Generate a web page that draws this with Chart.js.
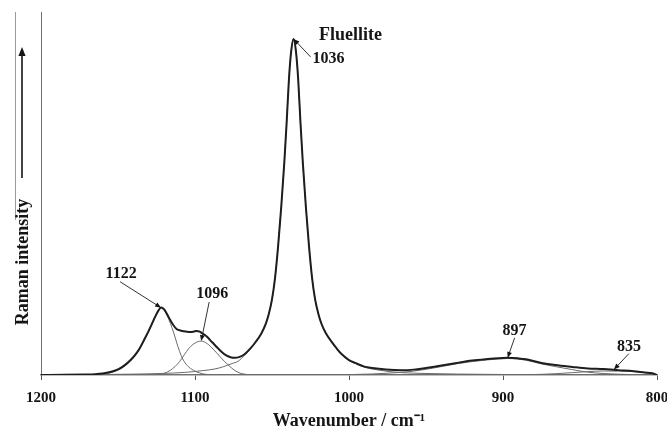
<!DOCTYPE html>
<html>
<head>
<meta charset="utf-8">
<script src="https://cdn.jsdelivr.net/npm/chart.js@4.4.0/dist/chart.umd.min.js"></script>
<style>
  html, body { margin: 0; padding: 0; background: #fff; }
  #wrap { position: relative; width: 667px; height: 430px; }
</style>
</head>
<body>
<div id="wrap"><canvas id="raman"></canvas></div>
<script>
// Raman spectrum of fluellite, 1200-800 cm-1: measured envelope + fitted bands

// measured spectrum (wavenumber / intensity, arbitrary units)
const totalWn = [1200, 1185, 1172, 1165, 1160, 1155, 1150, 1146, 1142, 1139,
  1136, 1133, 1130, 1128, 1126, 1124, 1122, 1120, 1118, 1116,
  1114, 1112, 1110, 1107, 1104, 1101, 1099, 1097, 1095, 1092,
  1089, 1086, 1083, 1080, 1077, 1074, 1071, 1068, 1064, 1061,
  1057, 1054, 1052, 1050, 1048, 1046, 1044, 1042, 1040.5, 1039,
  1037.5, 1036, 1034.5, 1033, 1031.5, 1030, 1028, 1026, 1024, 1022,
  1020, 1018, 1015, 1011, 1008, 1005, 1000, 996, 990, 985,
  976, 966, 958, 950, 940, 930, 920, 910, 903, 897,
  890, 885, 875, 866, 855, 845, 835, 825, 815, 808,
  803, 800];
const totalI = [0, 0.05, 0.15, 0.25, 0.45, 0.9, 1.7, 2.8, 4.4, 5.9,
  7.9, 10.5, 13.2, 15.2, 17.2, 19.0, 20.1, 19.5, 18.0, 16.3,
  14.8, 13.7, 13.3, 13.0, 12.8, 12.9, 13.1, 12.9, 12.3, 11.3,
  9.8, 8.4, 7.0, 5.9, 5.3, 5.1, 5.4, 6.1, 7.9, 9.6,
  12.3, 15.3, 18.3, 22.5, 29, 38.5, 50, 63.3, 75, 88,
  96.5, 100, 96.5, 88, 75, 63.3, 50, 38.5, 29, 22.5,
  18.4, 15.4, 12.4, 9.7, 7.9, 6.3, 4.45, 3.6, 2.5, 2.1,
  1.65, 1.45, 1.6, 2.1, 2.8, 3.6, 4.3, 4.75, 5.0, 5.1,
  4.95, 4.7, 3.6, 2.95, 2.4, 1.95, 1.75, 1.45, 1.15, 0.75,
  0.5, 0];

// fitted band at 1122
const band1122Wn = [1200, 1175, 1165, 1160, 1155, 1150, 1146, 1142, 1139, 1136,
  1133, 1130, 1128, 1126, 1124, 1122, 1120, 1118, 1116, 1114,
  1112, 1110, 1108, 1105, 1101, 1097, 1093, 1088, 1080, 800];
const band1122I = [0, 0, 0.1, 0.25, 0.65, 1.45, 2.5, 4.1, 5.6, 7.6,
  10.2, 13.0, 15.0, 17.0, 18.8, 20.0, 19.2, 17.6, 15.4, 12.8,
  9.8, 7.0, 4.8, 2.8, 1.4, 0.6, 0.2, 0.05, 0, 0];

// fitted band at 1096
const band1096Wn = [1200, 1130, 1124, 1120, 1116, 1113, 1110, 1107, 1104, 1100,
  1096, 1092, 1088, 1084, 1081, 1078, 1074, 1070, 1065, 1060, 800];
const band1096I = [0, 0, 0.15, 0.5, 1.4, 2.5, 4.0, 6.0, 7.9, 9.5,
  10.1, 9.3, 7.6, 5.6, 4.1, 2.8, 1.3, 0.45, 0.1, 0, 0];

// fitted band at 1036 (main fluellite band)
const band1036Wn = [1200, 1170, 1142, 1122, 1106, 1096, 1087, 1082, 1076, 1072,
  1068, 1064, 1061, 1057, 1054, 1052, 1050, 1048, 1046, 1044,
  1042, 1040.5, 1039, 1037.5, 1036, 1034.5, 1033, 1031.5, 1030, 1028,
  1026, 1024, 1022, 1020, 1018, 1015, 1011, 1008, 1005, 1000,
  996, 990, 985, 976, 966, 950, 930, 900, 850, 800];
const band1036I = [0, 0.1, 0.25, 0.45, 0.8, 1.25, 1.8, 2.4, 3.4, 4.1,
  5.8, 7.8, 9.6, 12.3, 15.3, 18.3, 22.5, 29, 38.5, 50,
  63.3, 75, 88, 96.5, 100, 96.5, 88, 75, 63.3, 50,
  38.5, 29, 22.5, 18.3, 15.3, 12.3, 9.7, 7.8, 6.2, 4.3,
  3.5, 2.3, 1.8, 1.15, 0.7, 0.45, 0.28, 0.15, 0.1, 0];

// fitted band at 897
const band897Wn = [1200, 1050, 1020, 1000, 985, 976, 966, 958, 950, 940,
  930, 920, 910, 897, 885, 875, 866, 855, 845, 835,
  820, 810, 800];
const band897I = [0, 0, 0.04, 0.12, 0.3, 0.5, 0.8, 1.15, 1.7, 2.5,
  3.35, 4.0, 4.5, 4.9, 4.4, 3.3, 2.5, 1.6, 0.85, 0.45,
  0.17, 0.08, 0];

// fitted band at 835
const band835Wn = [1200, 905, 890, 875, 865, 855, 845, 835, 825, 815, 808, 803, 800];
const band835I = [0, 0, 0.05, 0.2, 0.4, 0.7, 1.0, 1.2, 1.15, 1.0, 0.7, 0.35, 0];

const xTicks = [1200, 1100, 1000, 900, 800];
const peakLabels = ['1122', '1096', '1036', '897', '835'];

const SERIF = "'Liberation Serif', 'Times New Roman', serif";
const INK = '#151515';
const BAND = '#6a6a6a';

function pts(wn, val){
  return wn.map((w, i) => ({x: w, y: val[i]}));
}

function trace(label, wn, val, color, width){
  return {
    label,
    data: pts(wn, val),
    borderColor: color,
    borderWidth: width,
    pointRadius: 0,
    fill: false,
    cubicInterpolationMode: 'monotone'
  };
}

// arrow from (x0,y0) to (x1,y1), filled head at the end
function arrow(ctx, x0, y0, x1, y1, head){
  const a = Math.atan2(y1 - y0, x1 - x0);
  const c = Math.cos(a), s = Math.sin(a);
  ctx.beginPath();
  ctx.moveTo(x0, y0);
  ctx.lineTo(x1 - c * head * 0.7, y1 - s * head * 0.7);
  ctx.stroke();
  ctx.beginPath();
  ctx.moveTo(x1, y1);
  ctx.lineTo(x1 - c * head + s * head * 0.4, y1 - s * head - c * head * 0.4);
  ctx.lineTo(x1 - c * head - s * head * 0.4, y1 - s * head + c * head * 0.4);
  ctx.closePath();
  ctx.fill();
}

// where each peak label sits: tip in data units, tail and text as pixel offsets from the tip
const peakNotes = [
  {tip: [1122, 20.0], tail: [-41, -26], text: [-40, -34], align: 'center'},
  {tip: [1096, 10.1], tail: [8, -39], text: [11, -47], align: 'center'},
  {tip: [1036, 100], tail: [17, 18], text: [19, 20], align: 'left'},
  {tip: [897, 5.1], tail: [7, -20], text: [7, -27], align: 'center'},
  {tip: [828, 1.6], tail: [15, -16], text: [15, -23], align: 'center'}
];

const peakMarker = {
  id: 'peakMarker',
  afterDatasetsDraw(chart){
    const {ctx, scales: {x, y}} = chart;
    ctx.save();
    ctx.strokeStyle = '#333';
    ctx.fillStyle = INK;
    ctx.lineWidth = 1;
    peakNotes.forEach((n, i) => {
      const px = x.getPixelForValue(n.tip[0]);
      const py = y.getPixelForValue(n.tip[1]);
      arrow(ctx, px + n.tail[0], py + n.tail[1], px, py, 6);
      ctx.font = 'bold 16px ' + SERIF;
      ctx.textAlign = n.align;
      ctx.textBaseline = 'middle';
      ctx.fillText(peakLabels[i], px + n.text[0], py + n.text[1]);
    });
    // mineral name above the main band
    const mx = x.getPixelForValue(1036), my = y.getPixelForValue(100);
    ctx.font = 'bold 18px ' + SERIF;
    ctx.textAlign = 'center';
    ctx.fillText('Fluellite', mx + 57, my - 4);
    ctx.restore();
  }
};

// vertical "Raman intensity" caption with its arrow, plus the old frame edge on the left
const intensityAxis = {
  id: 'intensityAxis',
  afterDraw(chart){
    const {ctx} = chart;
    ctx.save();
    ctx.strokeStyle = '#9a9a9a';
    ctx.lineWidth = 1;
    ctx.beginPath();
    ctx.moveTo(15.5, 12);
    ctx.lineTo(15.5, 220);
    ctx.stroke();

    ctx.strokeStyle = INK;
    ctx.fillStyle = INK;
    ctx.lineWidth = 1.6;
    arrow(ctx, 22, 178, 22, 47, 9);

    ctx.translate(23, 262);
    ctx.rotate(-Math.PI / 2);
    ctx.font = 'bold 18px ' + SERIF;
    ctx.textAlign = 'center';
    ctx.textBaseline = 'middle';
    ctx.fillText('Raman intensity', 0, 0);
    ctx.restore();
  }
};

new Chart(document.getElementById('raman'), {
  type: 'line',
  data: {
    datasets: [
      trace('Spectrum', totalWn, totalI, '#1e1e1e', 2),
      trace('1122', band1122Wn, band1122I, BAND, 1),
      trace('1096', band1096Wn, band1096I, BAND, 1),
      trace('1036', band1036Wn, band1036I, BAND, 1),
      trace('897', band897Wn, band897I, BAND, 1),
      trace('835', band835Wn, band835I, BAND, 1)
    ]
  },
  options: {
    responsive: true,
    maintainAspectRatio: false,
    animation: false,
    events: [],
    layout: {padding: {left: 0, right: 10, top: 12, bottom: 0}},
    plugins: {legend: {display: false}, tooltip: {enabled: false}},
    scales: {
      x: {
        type: 'linear',
        reverse: true,
        min: 800,
        max: 1200,
        afterBuildTicks(scale){
          scale.ticks = xTicks.map(v => ({value: v}));
        },
        afterFit(scale){
          scale.height = 55;
          scale.paddingLeft = 0;
          scale.paddingRight = 0;
        },
        grid: {display: true, drawOnChartArea: false, drawTicks: true, tickLength: 5, color: '#555'},
        border: {display: true, color: '#808080', width: 1.5},
        ticks: {
          padding: 9,
          maxRotation: 0,
          autoSkip: false,
          color: INK,
          font: {family: SERIF, size: 15, weight: 'bold'},
          callback: v => String(v)
        },
        title: {
          display: true,
          text: 'Wavenumber / cm\u207B\u00B9',
          color: INK,
          padding: {top: 0, bottom: 0},
          font: {family: SERIF, size: 18, weight: 'bold', lineHeight: 1}
        }
      },
      y: {
        min: 0,
        max: 108,
        afterFit(scale){
          scale.width = 41;
        },
        grid: {display: false},
        border: {display: true, color: '#707070', width: 1},
        ticks: {display: false}
      }
    }
  },
  plugins: [peakMarker, intensityAxis]
});
</script>
</body>
</html>
